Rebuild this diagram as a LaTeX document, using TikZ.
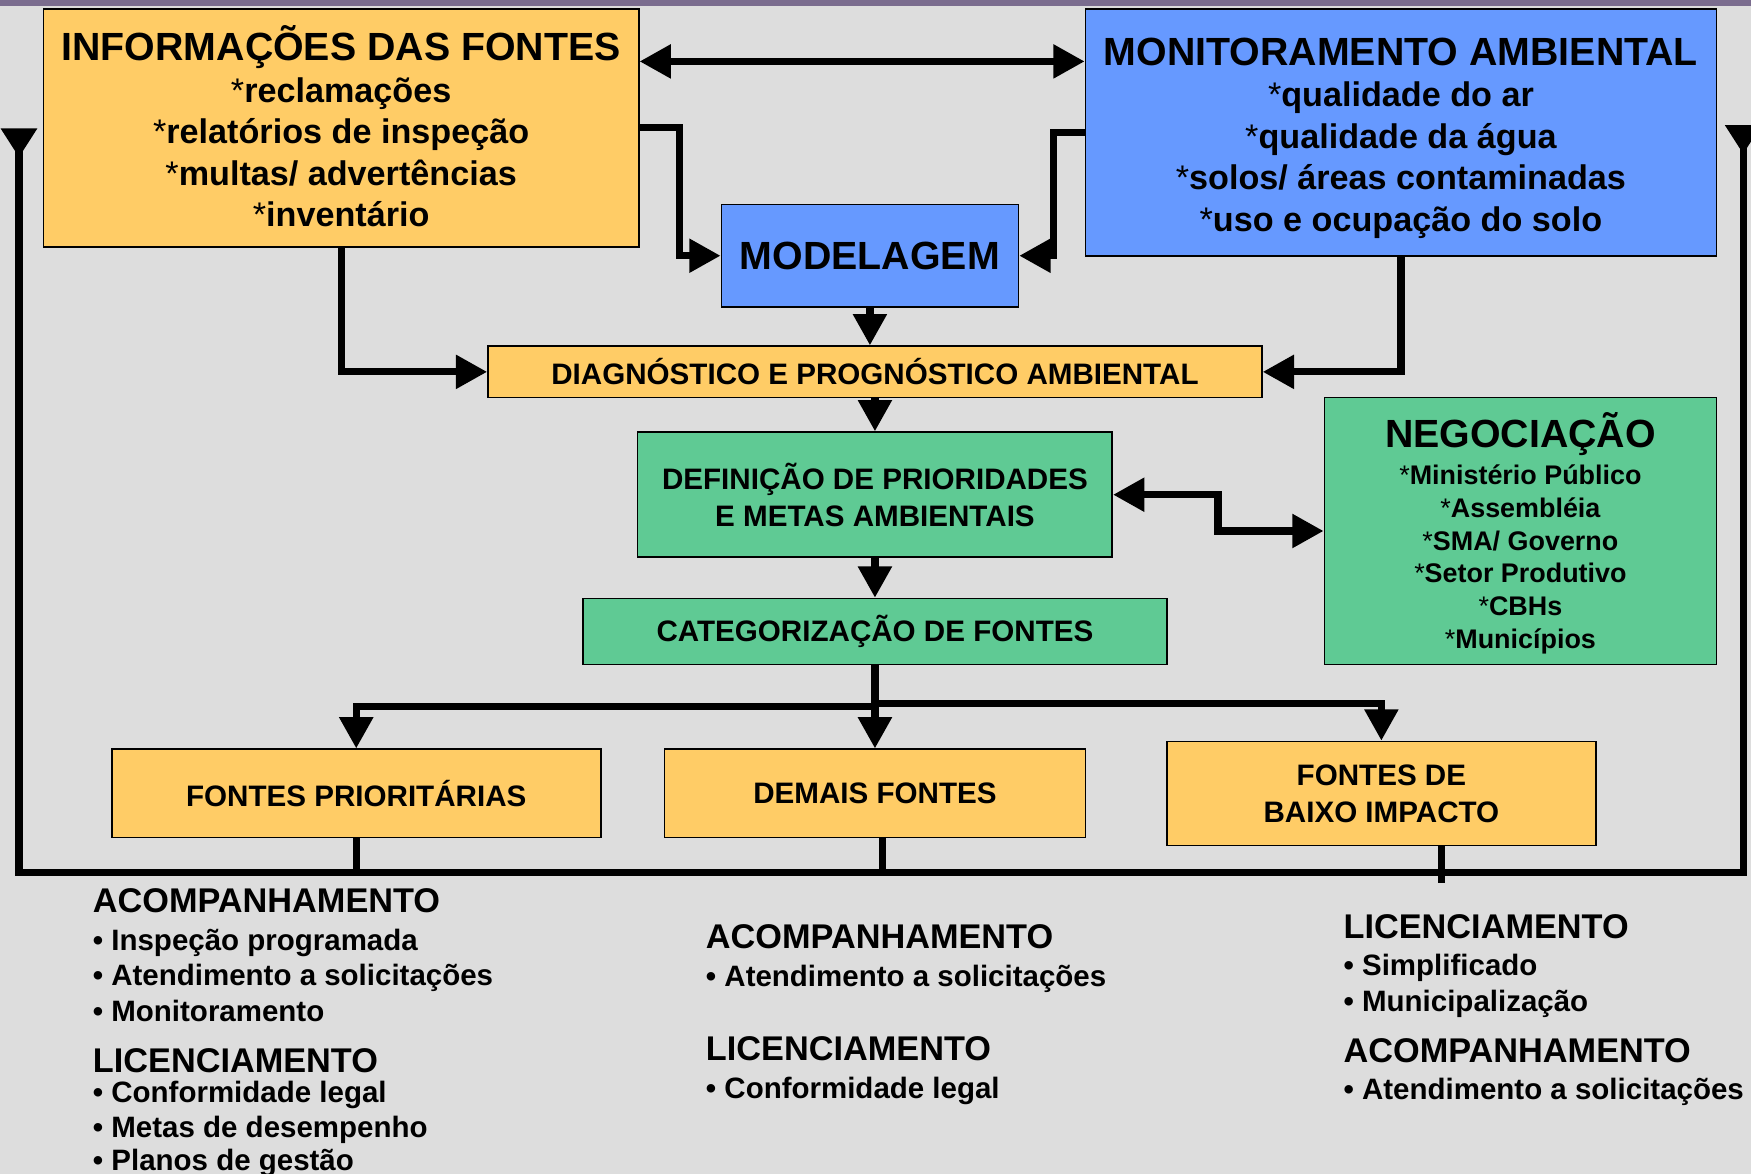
\documentclass[tikz,border=0pt]{standalone}
\usepackage{fontspec}
\setmainfont{Liberation Sans}
\usetikzlibrary{arrows.meta,positioning}

\definecolor{fundo}{HTML}{DDDDDD}
\definecolor{amarelo}{HTML}{FFCC66}
\definecolor{azul}{HTML}{6699FF}
\definecolor{verde}{HTML}{5FCA94}
\definecolor{faixa}{HTML}{7A6C8E}

\newcommand{\titulo}{\fontsize{35.2}{37.3}\selectfont}
\newcommand{\itens}{\fontsize{30.6}{37.3}\selectfont}
\newcommand{\rotulo}{\fontsize{26.5}{33}\selectfont}
\newcommand{\agentes}{\fontsize{24.1}{29.3}\selectfont}
\newcommand{\cab}[1]{{\fontsize{30.7}{30.7}\selectfont #1}}
\newcommand{\bul}[1]{{\fontsize{26.4}{26.4}\selectfont\textbullet\ #1}}
\newcommand{\estrela}{{\mdseries *}}

\begin{document}
\begin{tikzpicture}[x=1pt,y=-1pt,on grid,font=\bfseries,
  caixa/.style={draw=black,line width=1.5pt,align=center,inner sep=0pt},
  caixaamar/.style={caixa,fill=amarelo},
  caixaazul/.style={caixa,fill=azul},
  caixaverde/.style={caixa,fill=verde},
  seta/.style={line width=6.5pt,-{Triangle[length=28pt,width=29pt]}},
  seta2/.style={line width=6.5pt,{Triangle[length=28pt,width=29pt]}-{Triangle[length=28pt,width=29pt]}},
  linha/.style={line width=6.5pt},
  retorno/.style={line width=6.5pt,{Triangle[reversed,length=26pt,width=31pt]}-{Triangle[reversed,length=26pt,width=31pt]}},
  texto/.style={anchor=base west,inner sep=0pt}]
\useasboundingbox (0,0) rectangle (1568,1051);
\fill[fundo] (0,0) rectangle (1568,1051);
\fill[faixa] (0,0) rectangle (1568,5);

% caixas de cima
\node[caixaamar,minimum width=533pt,minimum height=213pt,font=\bfseries\itens] (info) at (305.5,114.5)
  {{\titulo INFORMAÇÕES DAS FONTES}\\\estrela reclamações\\\estrela relatórios de inspeção\\\estrela multas/ advertências\\\estrela inventário\rule[-3pt]{0pt}{0pt}};
\node[caixaazul,minimum width=565pt,minimum height=221pt,font=\bfseries\itens] (monit) at (1254.5,118.5)
  {{\titulo\rule{0pt}{35pt}MONITORAMENTO AMBIENTAL}\\\estrela qualidade do ar\\\estrela qualidade da água\\\estrela solos/ áreas contaminadas\\\estrela uso e ocupação do solo};
\node[caixaazul,minimum width=266pt,minimum height=92pt,font=\bfseries\titulo] (model) at (779,229) {MODELAGEM};

% coluna central
\node[caixaamar,minimum width=693pt,minimum height=46pt,font=\bfseries\rotulo] (diag) at (783.5,333)
  {DIAGNÓSTICO E PROGNÓSTICO AMBIENTAL};
\node[caixaverde,minimum width=425pt,minimum height=112pt,font=\bfseries\rotulo] (def) [below=110pt of diag]
  {DEFINIÇÃO DE PRIORIDADES\\E METAS AMBIENTAIS};
\node[caixaverde,minimum width=523pt,minimum height=59pt,font=\bfseries\rotulo] (cat) [below=122.5pt of def]
  {CATEGORIZAÇÃO DE FONTES};
\node[caixaverde,minimum width=351pt,minimum height=239pt,font=\bfseries\agentes] (neg) at (1361.5,475.5)
  {{\titulo\rule{0pt}{35.5pt}NEGOCIAÇÃO}\\[3.7pt]\estrela Ministério Público\\\estrela Assembléia\\\estrela SMA/ Governo\\\estrela Setor Produtivo\\\estrela CBHs\\\estrela Municípios};

% fontes
\node[caixaamar,minimum width=377pt,minimum height=79pt,font=\bfseries\rotulo] (demais) [below=145pt of cat] {DEMAIS FONTES};
\node[caixaamar,minimum width=438pt,minimum height=79pt,font=\bfseries\rotulo] (prior) [left=464.5pt of demais] {FONTES PRIORITÁRIAS};
\node[caixaamar,minimum width=384pt,minimum height=93pt,font=\bfseries\rotulo] (baixo) [right=453.5pt of demais] {FONTES DE\\BAIXO IMPACTO};

% ligacoes
\draw[seta2] ([yshift=59.5pt]info.east) -- ([yshift=63.5pt]monit.west);
\draw[seta] (info.east) -- ++(36,0) |- (model.west);
\draw[seta] (monit.west) -- ++(-28,0) |- (model.east);
\draw[seta] (model.south) -- (model.south |- diag.north);
\draw[seta] (info.south) |- (diag.west);
\draw[seta] (monit.south) |- (diag.east);
\draw[seta] (diag.south) -- (def.north);
\draw[seta] (def.south) -- (cat.north);
\draw[seta2] (def.east) -- ++(94,0) |- (neg.west);
\draw[seta] (cat.south) -- ++(0,37) -| (prior.north);
\draw[seta] (cat.south) -- (demais.north);
\draw[seta] (cat.south) -- ++(0,34) -| (baixo.north);

% retorno
\coordinate (fimE) at (17,115);
\coordinate (baseE) at (17,781);
\coordinate (baseD) at (1561,781);
\coordinate (fimD) at (1561,112);
\draw[retorno] (fimE) -- (baseE) -- (baseD) -- (fimD);
\draw[linha] (prior.south) -- (prior.south |- baseE);
\draw[linha] ([xshift=6.5pt]demais.south) -- ([xshift=6.5pt]demais.south |- baseE);
\draw[linha] ([xshift=54pt]baixo.south) -- ++(0,33);

% textos de baixo
\foreach \y/\t [count=\i] in {817/\cab{ACOMPANHAMENTO},851.5/\bul{Inspeção programada},
    882.5/\bul{Atendimento a solicitações},914.5/\bul{Monitoramento},960/\cab{LICENCIAMENTO},
    987.5/\bul{Conformidade legal},1018.5/\bul{Metas de desempenho},1048.5/\bul{Planos de gestão}}
  \node[texto] (col1-\i) at (83,\y) {\t};
\foreach \y/\t [count=\i] in {849/\cab{ACOMPANHAMENTO},883.5/\bul{Atendimento a solicitações},
    950/\cab{LICENCIAMENTO},983.5/\bul{Conformidade legal}}
  \node[texto] (col2-\i) at (632,\y) {\t};
\foreach \y/\t [count=\i] in {840/\cab{LICENCIAMENTO},873.5/\bul{Simplificado},905.5/\bul{Municipalização},
    951/\cab{ACOMPANHAMENTO},984.5/\bul{Atendimento a solicitações}}
  \node[texto] (col3-\i) at (1203,\y) {\t};
\end{tikzpicture}
\end{document}
